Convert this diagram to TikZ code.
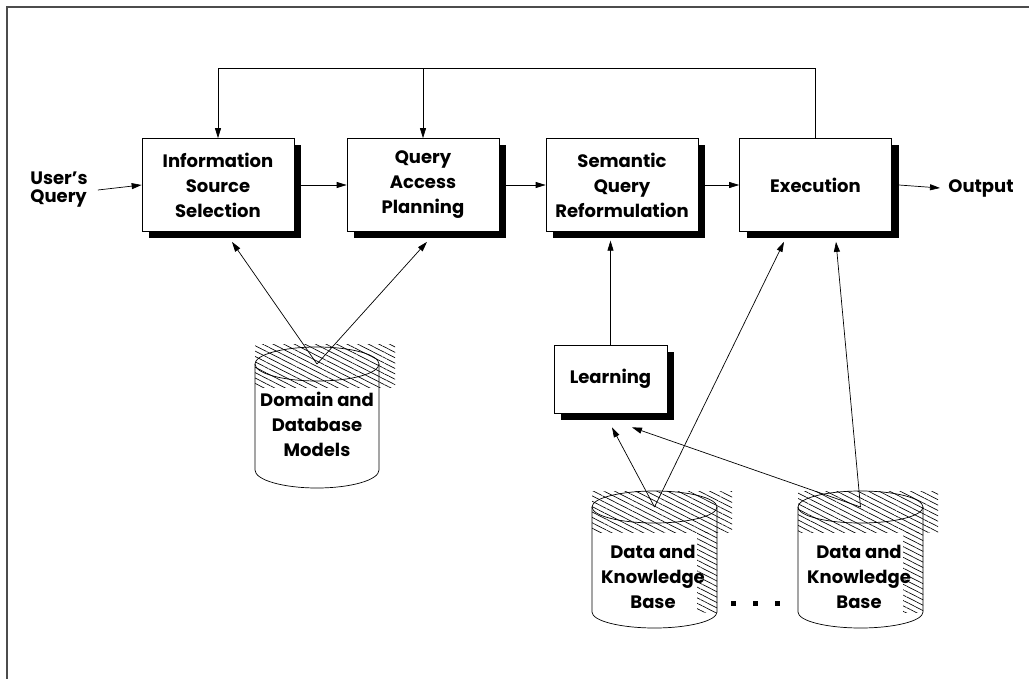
\documentclass[tikz,border=0pt]{standalone}
\usepackage{fontspec}
\setmainfont{Poppins}
\usetikzlibrary{arrows.meta,patterns.meta,shadows,calc}

\newcommand{\boxfont}{\fontsize{18}{25}\bfseries}

\tikzset{
  >={Triangle[length=10pt,width=6pt]},
  proc/.style={draw, fill=white, line width=0.7pt, minimum width=152pt,
    minimum height=93pt, align=center, font=\boxfont,
    drop shadow={shadow xshift=7pt, shadow yshift=-7pt, fill=black, opacity=1}},
  cyltext/.style={align=center, font=\boxfont},
  hatch/.style={pattern={Lines[angle=-27,distance=4.8pt,line width=0.65pt]}},
}

\begin{document}
\begin{tikzpicture}[x=1pt,y=1pt,line width=0.7pt]
  \useasboundingbox (0,0) rectangle (1029,-679);
  \draw[line width=1.2pt, black!70] (7,-679) -- (7,-7) -- (1029,-7);

  % main chain
  \node[proc] (info) at (218,-185) {Information\\Source\\Selection};
  \node[proc] (qap) at (423,-185) {Query\\Access\\Planning};
  \node[proc] (sqr) at (622,-185) {Semantic\\Query\\Reformulation};
  \node[proc] (exec) at (815.5,-185) {Execution};
  \node[proc, minimum width=113pt, minimum height=68pt] (learn) at (610.5,-379) {Learning};

  \node[anchor=west, align=left, font=\fontsize{18}{18}\bfseries, inner sep=0pt] (user) at (30,-190) {User's\\Query};
  \node[anchor=west, font=\boxfont, inner sep=0pt] (out) at (948,-188) {Output};

  \draw[->] ([xshift=10pt]user.east) -- (info.west);
  \draw[->] ([xshift=7pt]info.east) -- (qap.west);
  \draw[->] ([xshift=7pt]qap.east) -- (sqr.west);
  \draw[->] ([xshift=7pt]sqr.east) -- (exec.west);
  \draw[->] ([xshift=7pt]exec.east) -- ([xshift=-8pt]out.west);

  % feedback
  \draw[->] (exec.north) -- ++(0,70) -| (info.north);
  \coordinate (fb) at (0,-69);
  \draw[->] (qap.north |- fb) -- (qap.north);

  % domain and database models
  \fill[hatch] (255,-345) rectangle (395,-387);
  \draw (255,-364) -- (255,-470) arc[start angle=180,end angle=360,x radius=62,y radius=18] -- (379,-364);
  \draw (317,-364) ellipse [x radius=62, y radius=17];
  \coordinate (dbtop) at (317,-364);
  \node[cyltext] (db) at (317,-424) {Domain and\\Database\\Models};

  % data and knowledge bases
  \foreach \l/\n in {592/kba, 798/kbb} {
    \fill[hatch] (\l,-491) rectangle ($(\l,-532)+(140,0)$);
    \fill[hatch] ($(\l,-532)+(105,0)$) rectangle ($(\l,-612)+(125,0)$);
    \draw (\l,-507) -- (\l,-612) arc[start angle=180,end angle=360,x radius=62.5,y radius=16] -- ($(\l,-507)+(125,0)$);
    \draw ($(\l,-507)+(62.5,0)$) ellipse [x radius=62.5, y radius=16];
    \coordinate (\n-top) at ($(\l,-507)+(62.5,0)$);
    \node[cyltext] (\n) at ($(\l,-577)+(61,0)$) {Data and\\Knowledge\\Base};
  }
  \foreach \x in {733,755,777} \fill (\x-2.5,-600.5) rectangle (\x+2.5,-605.5);

  % connectors
  \draw[->] (dbtop) -- ([shift={(14,-10)}]info.south);
  \draw[->] (dbtop) -- ([shift={(4,-10)}]qap.south);
  \draw[->] (learn.north) -- ++(0,104);
  \draw[->] (kba-top) -- ([shift={(1.5,-14)}]learn.south);
  \draw[->] (kba-top) -- ([shift={(-31.5,-10)}]exec.south);
  \draw[->] (kbb-top) -- ([shift={(21.5,-14)}]learn.south);
  \draw[->] (kbb-top) -- ([shift={(20.5,-10)}]exec.south);
\end{tikzpicture}
\end{document}
